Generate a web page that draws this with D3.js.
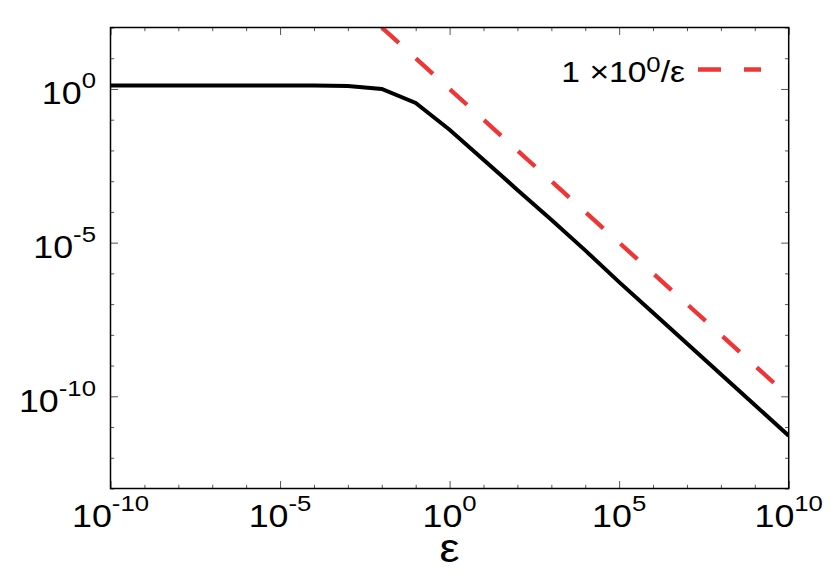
<!DOCTYPE html>
<html><head><meta charset="utf-8">
<script src="https://cdn.jsdelivr.net/npm/d3@7"></script>
<style>body{margin:0;background:#fff}svg{display:block}text{font-family:"Liberation Sans",Arial,Helvetica,sans-serif;fill:#000}</style>
</head><body><svg id="c" width="830" height="581"></svg>
<script>
// ---- data ----
const epsValues   = [1e-10,1e-9,1e-8,1e-7,1e-6,1e-5,1e-4,1e-3,1e-2,1e-1,1e0,1e1,1e2,1e3,1e4,1e5,1e6,1e7,1e8,1e9,1e10];
const curveValues = [1.30,1.30,1.30,1.30,1.30,1.30,1.29,1.24,1.0,0.35,0.047,5.0e-3,5.2e-4,5.6e-5,5.6e-6,5.2e-7,5.2e-8,5.2e-9,5.2e-10,5.2e-11,5.2e-12];
const refEps      = [1e-2,1e10];
const refCoeff    = 1;          // 1 x 10^0 / eps
const xMajorExp   = [-10,-5,0,5,10];
const yMajorExp   = [-10,-5,0];
const xDomain     = [1e-10,1e10];
const yDomain     = [1e-13,1e2];
const legendLabel = ["1 \u00d710","0","/\u03b5"];
const xLabel      = "\u03b5";

// ---- layout ----
const L=110.5,R=788.7,T=27.5,B=488.5, SX=1.12;
const svg=d3.select("#c");
const x=d3.scaleLog().domain(xDomain).range([L,R]);
const y=d3.scaleLog().domain(yDomain).range([B,T]);

svg.append("defs").append("clipPath").attr("id","clip")
  .append("rect").attr("x",L).attr("y",T).attr("width",R-L).attr("height",B-T);

// ticks
const xDec=d3.range(-10,11).map(e=>Math.pow(10,e));
const yDec=d3.range(-13,3).map(e=>Math.pow(10,e));
const isMajX=v=>xMajorExp.includes(Math.round(Math.log10(v)));
const isMajY=v=>yMajorExp.includes(Math.round(Math.log10(v)));
function styleAxis(g){g.select(".domain").remove();g.selectAll("line").attr("stroke","#555").attr("stroke-width",1);g.selectAll("text").remove();}
function addAxis(gen,tr,vals,size){svg.append("g").attr("transform",tr).call(gen.tickValues(vals).tickSize(size).tickFormat("")).call(styleAxis);}
addAxis(d3.axisBottom(x),`translate(0,${B})`,xDec.filter(v=>!isMajX(v)),-3.7);
addAxis(d3.axisBottom(x),`translate(0,${B})`,xDec.filter(isMajX),-7.5);
addAxis(d3.axisTop(x),`translate(0,${T})`,xDec.filter(v=>!isMajX(v)),-3.7);
addAxis(d3.axisTop(x),`translate(0,${T})`,xDec.filter(isMajX),-7.5);
addAxis(d3.axisLeft(y),`translate(${L},0)`,yDec.filter(v=>!isMajY(v)),-3.7);
addAxis(d3.axisLeft(y),`translate(${L},0)`,yDec.filter(isMajY),-7.5);
addAxis(d3.axisRight(y),`translate(${R},0)`,yDec.filter(v=>!isMajY(v)),-3.7);
addAxis(d3.axisRight(y),`translate(${R},0)`,yDec.filter(isMajY),-7.5);

function stext(px,py,anchor,size){
  return svg.append("g").attr("transform",`translate(${px},${py}) scale(${SX},1)`)
    .append("text").attr("text-anchor",anchor).style("font-size",size+"px");
}
// tick labels
xMajorExp.forEach(e=>{
  const t=stext(x(Math.pow(10,e)),B+38,"middle",32);
  t.append("tspan").text("10");
  t.append("tspan").attr("dy",-16).style("font-size","23px").text(String(e));
});
yMajorExp.forEach(e=>{
  const t=stext(96,y(Math.pow(10,e))+15.5,"end",32);
  t.append("tspan").text("10");
  t.append("tspan").attr("dy",-16).style("font-size","23px").text(String(e));
});

// axis label
stext(x(1),562,"middle",40).text(xLabel);

// curves
const plot=svg.append("g").attr("clip-path","url(#clip)");
const line=d3.line().x(d=>x(d[0])).y(d=>y(d[1]));
plot.append("path").datum(refEps.map(e=>[e,refCoeff/e])).attr("d",line)
  .attr("fill","none").attr("stroke","#ef3535").attr("stroke-width",4.3).attr("stroke-dasharray","23,23");
plot.append("path").datum(epsValues.map((e,i)=>[e,curveValues[i]])).attr("d",line)
  .attr("fill","none").attr("stroke","#000").attr("stroke-width",4).attr("stroke-linejoin","miter");

// frame
svg.append("rect").attr("x",L).attr("y",T).attr("width",R-L).attr("height",B-T)
  .attr("fill","none").attr("stroke","#000").attr("stroke-width",1.5);

// legend
const lt=stext(685,82.3,"end",30);
lt.append("tspan").text(legendLabel[0]);
lt.append("tspan").attr("dy",-10).style("font-size","23px").text(legendLabel[1]);
lt.append("tspan").attr("dy",10).text(legendLabel[2]);
svg.append("line").attr("x1",698).attr("x2",761).attr("y1",69.5).attr("y2",69.5)
  .attr("stroke","#ef3535").attr("stroke-width",4.3).attr("stroke-dasharray","23,23");
</script></body></html>
